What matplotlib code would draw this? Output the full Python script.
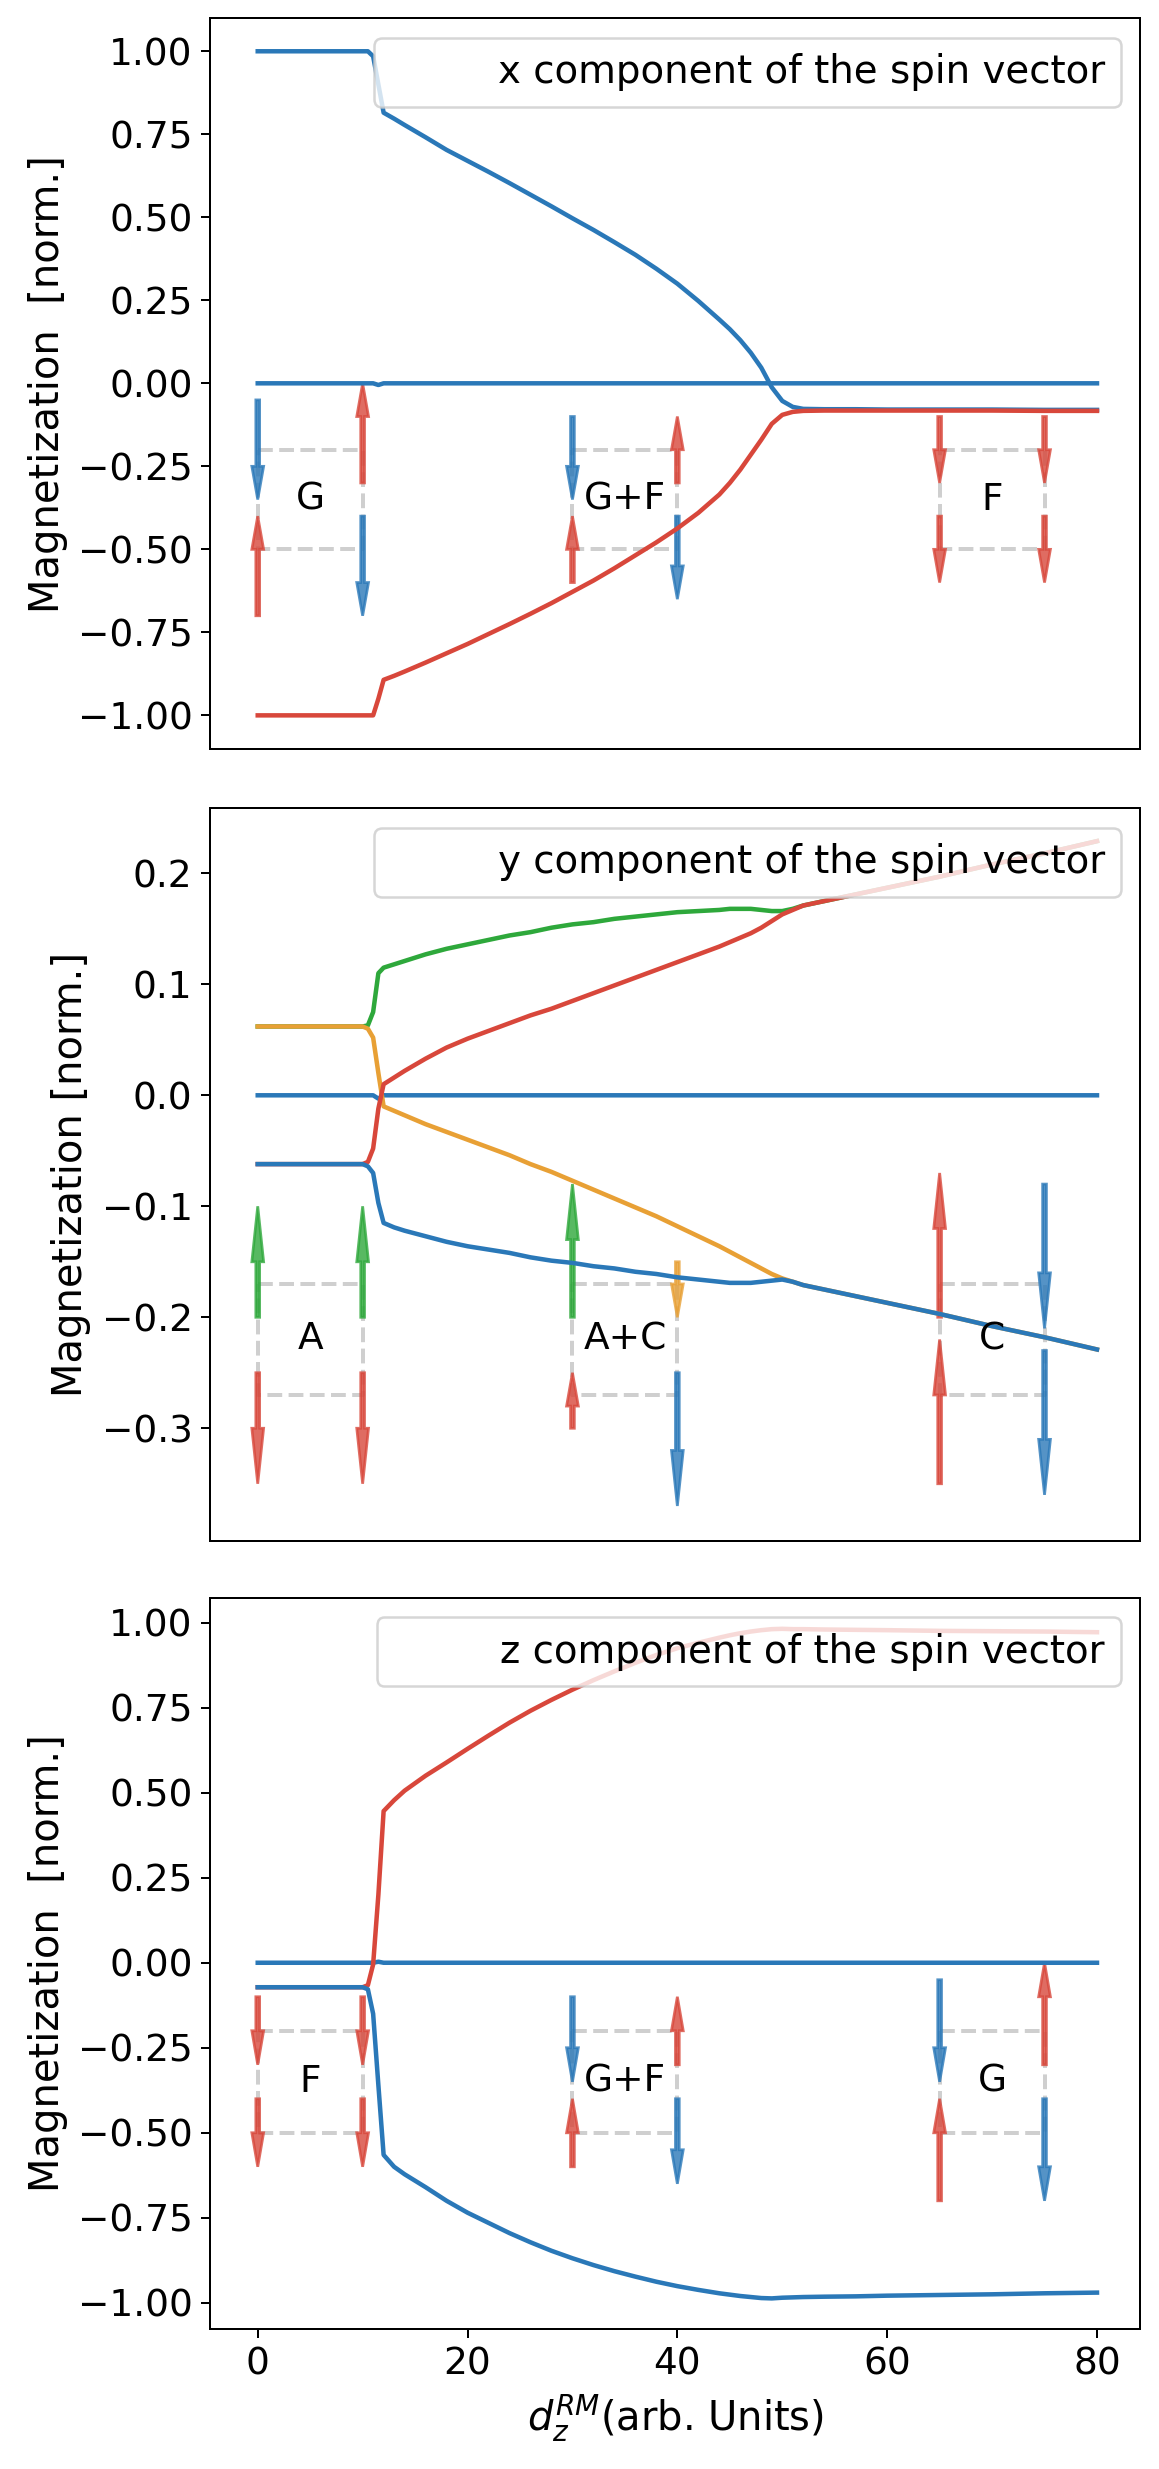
import matplotlib
matplotlib.use("Agg")
import matplotlib.pyplot as plt

# ---------------- data ----------------
X = [0, 10, 10.5, 11, 11.5, 12, 13, 14, 16, 18, 20, 22, 24, 26, 28, 30, 32, 34, 36, 38,
     40, 42, 44, 45, 46, 47, 48, 49, 50, 51, 52, 54, 57, 60, 65, 70, 75, 80]

# x component
sx_blue = [1.0, 1.0, 1.0, 0.985, 0.90, 0.815, 0.797, 0.778, 0.741, 0.703, 0.670, 0.637, 0.603,
           0.568, 0.533, 0.497, 0.462, 0.425, 0.387, 0.345, 0.300, 0.248, 0.192, 0.163, 0.130,
           0.092, 0.047, -0.012, -0.053, -0.071, -0.077, -0.078, -0.078, -0.079, -0.079,
           -0.079, -0.080, -0.080]
sx_red = [-1.0, -1.0, -1.0, -1.0, -0.95, -0.893, -0.881, -0.868, -0.841, -0.813, -0.785,
          -0.755, -0.725, -0.694, -0.662, -0.628, -0.594, -0.557, -0.518, -0.479, -0.437,
          -0.390, -0.335, -0.300, -0.260, -0.215, -0.170, -0.122, -0.095, -0.086, -0.083,
          -0.082, -0.082, -0.082, -0.082, -0.082, -0.083, -0.083]
sx_zero = [0, 0, 0, 0, -0.005, 0, 0, 0, 0, 0, 0, 0, 0, 0, 0, 0, 0, 0, 0, 0,
           0, 0, 0, 0, 0, 0, 0, 0, 0, 0, 0, 0, 0, 0, 0, 0, 0, 0]

# y component
sy_green = [0.062, 0.062, 0.063, 0.075, 0.110, 0.115, 0.118, 0.121, 0.127, 0.132, 0.136,
            0.140, 0.144, 0.147, 0.151, 0.154, 0.156, 0.159, 0.161, 0.163, 0.165, 0.166,
            0.167, 0.168, 0.168, 0.168, 0.167, 0.166, 0.166, 0.168, 0.171, 0.175, 0.181,
            0.187, 0.197, 0.208, 0.218, 0.229]
sy_red = [-0.062, -0.062, -0.060, -0.048, -0.012, 0.010, 0.016, 0.022, 0.033, 0.043, 0.051,
          0.058, 0.065, 0.072, 0.078, 0.085, 0.092, 0.099, 0.106, 0.113, 0.120, 0.127, 0.134,
          0.138, 0.142, 0.146, 0.151, 0.157, 0.163, 0.167, 0.171, 0.175, 0.181, 0.187, 0.197,
          0.208, 0.218, 0.229]
sy_orange = [0.062, 0.062, 0.060, 0.052, 0.020, -0.010, -0.014, -0.018, -0.026, -0.033,
             -0.040, -0.047, -0.054, -0.062, -0.069, -0.077, -0.085, -0.093, -0.101, -0.109,
             -0.118, -0.127, -0.136, -0.141, -0.146, -0.151, -0.156, -0.161, -0.165, -0.168,
             -0.171, -0.175, -0.181, -0.187, -0.197, -0.208, -0.218, -0.229]
sy_blue = [-0.062, -0.062, -0.064, -0.070, -0.097, -0.115, -0.119, -0.122, -0.127, -0.132,
           -0.136, -0.139, -0.142, -0.146, -0.149, -0.151, -0.154, -0.156, -0.159, -0.161,
           -0.164, -0.166, -0.168, -0.169, -0.169, -0.169, -0.168, -0.167, -0.166, -0.168,
           -0.171, -0.175, -0.181, -0.187, -0.197, -0.208, -0.218, -0.229]
sy_zero = [0, 0, 0, 0, -0.003, 0, 0, 0, 0, 0, 0, 0, 0, 0, 0, 0, 0, 0, 0, 0,
           0, 0, 0, 0, 0, 0, 0, 0, 0, 0, 0, 0, 0, 0, 0, 0, 0, 0]

# z component
sz_red = [-0.072, -0.072, -0.066, -0.005, 0.20, 0.446, 0.478, 0.506, 0.550, 0.589, 0.629,
          0.668, 0.706, 0.741, 0.773, 0.803, 0.831, 0.857, 0.882, 0.905, 0.925, 0.941, 0.956,
          0.963, 0.969, 0.974, 0.978, 0.981, 0.982, 0.981, 0.981, 0.980, 0.979, 0.978, 0.976,
          0.975, 0.974, 0.972]
sz_blue = [-0.072, -0.072, -0.078, -0.150, -0.360, -0.565, -0.600, -0.622, -0.660, -0.700,
           -0.735, -0.765, -0.795, -0.822, -0.847, -0.869, -0.889, -0.907, -0.923, -0.938,
           -0.951, -0.962, -0.972, -0.976, -0.980, -0.983, -0.986, -0.987, -0.985, -0.984,
           -0.983, -0.982, -0.981, -0.979, -0.977, -0.975, -0.972, -0.970]
sz_zero = [0, 0, 0, 0, 0.003, 0, 0, 0, 0, 0, 0, 0, 0, 0, 0, 0, 0, 0, 0, 0,
           0, 0, 0, 0, 0, 0, 0, 0, 0, 0, 0, 0, 0, 0, 0, 0, 0, 0]

# spin-configuration sketches (arrows): x position, start, vector length, colour key
ax_x = [0, 0, 10, 10, 30, 30, 40, 40, 65, 65, 75, 75]
ax_y0 = [-0.05, -0.70, -0.30, -0.40, -0.10, -0.60, -0.30, -0.40, -0.10, -0.40, -0.10, -0.40]
ax_dy = [-0.30, 0.30, 0.30, -0.30, -0.25, 0.20, 0.20, -0.25, -0.20, -0.20, -0.20, -0.20]
ax_c = ["b", "r", "r", "b", "b", "r", "r", "b", "r", "r", "r", "r"]

ay_x = [0, 0, 10, 10, 30, 30, 40, 40, 65, 65, 75, 75]
ay_y0 = [-0.20, -0.25, -0.20, -0.25, -0.20, -0.30, -0.15, -0.25, -0.20, -0.35, -0.08, -0.23]
ay_dy = [0.10, -0.10, 0.10, -0.10, 0.12, 0.05, -0.05, -0.12, 0.13, 0.13, -0.13, -0.13]
ay_c = ["g", "r", "g", "r", "g", "r", "o", "b", "r", "r", "b", "b"]

az_x = [0, 0, 10, 10, 30, 30, 40, 40, 65, 65, 75, 75]
az_y0 = [-0.10, -0.40, -0.10, -0.40, -0.10, -0.60, -0.30, -0.40, -0.05, -0.70, -0.30, -0.40]
az_dy = [-0.20, -0.20, -0.20, -0.20, -0.25, 0.20, 0.20, -0.25, -0.30, 0.30, 0.30, -0.30]
az_c = ["r", "r", "r", "r", "b", "r", "r", "b", "b", "r", "r", "b"]

box_x0 = [0, 30, 65]
box_x1 = [10, 40, 75]
labels_x = ["G", "G+F", "F"]
labels_y = ["A", "A+C", "C"]
labels_z = ["F", "G+F", "G"]
box_yx = (-0.2, -0.5)
box_yy = (-0.17, -0.27)
box_yz = (-0.2, -0.5)

legend_texts = ["x component of the spin vector",
                "y component of the spin vector",
                "z component of the spin vector"]
ylabels = ["Magnetization  [norm.]", "Magnetization [norm.]", "Magnetization  [norm.]"]
xticks = [0, 20, 40, 60, 80]

# ---------------- style ----------------
COL = {"b": "#2a78b8", "r": "#d8473b", "g": "#2ea83b", "o": "#e8a035"}
LW = 1.8
W, H, DPI = 1159, 2469, 180

fig = plt.figure(figsize=(W / DPI, H / DPI), dpi=DPI)
axes = [fig.add_axes([210 / W, 1 - 748.9 / H, 930 / W, 730.5 / H]),
        fig.add_axes([210 / W, 1 - 1540.8 / H, 930 / W, 732.4 / H]),
        fig.add_axes([210 / W, 1 - 2329.0 / H, 930 / W, 731.3 / H])]


def draw_sketch(ax, xs, y0s, dys, cs, hl, labels, yb):
    ytop, ybot = yb
    for a, b in zip(box_x0, box_x1):
        ax.plot([a, b, b, a, a], [ytop, ytop, ybot, ybot, ytop], ls="--",
                color="#cfcfcf", lw=1.6, zorder=0.8)
    for a, b, t in zip(box_x0, box_x1, labels):
        ax.text((a + b) / 2, (ytop + ybot) / 2, t, ha="center", va="center",
                fontsize=15, zorder=3)
    for x, y, dy, c in zip(xs, y0s, dys, cs):
        h = min(hl, 0.6 * abs(dy))
        ax.arrow(x, y, 0, dy, width=0.36, head_width=1.12, head_length=h,
                 length_includes_head=True, color=COL[c], alpha=0.8, lw=1.1, zorder=1)


# x panel
ax = axes[0]
draw_sketch(ax, ax_x, ax_y0, ax_dy, ax_c, 0.1, labels_x, box_yx)
ax.plot(X, sx_zero, color=COL["b"], lw=LW)
ax.plot(X, sx_blue, color=COL["b"], lw=LW)
ax.plot(X, sx_red, color=COL["r"], lw=LW)
ax.set_ylim(-1.101, 1.099)
ax.set_yticks([-1.0, -0.75, -0.5, -0.25, 0.0, 0.25, 0.5, 0.75, 1.0])

# y panel
ax = axes[1]
draw_sketch(ax, ay_x, ay_y0, ay_dy, ay_c, 0.05, labels_y, box_yy)
ax.plot(X, sy_zero, color=COL["b"], lw=LW)
ax.plot(X, sy_green, color=COL["g"], lw=LW)
ax.plot(X, sy_orange, color=COL["o"], lw=LW)
ax.plot(X, sy_red, color=COL["r"], lw=LW)
ax.plot(X, sy_blue, color=COL["b"], lw=LW)
ax.set_ylim(-0.4014, 0.2585)
ax.set_yticks([-0.3, -0.2, -0.1, 0.0, 0.1, 0.2])

# z panel
ax = axes[2]
draw_sketch(ax, az_x, az_y0, az_dy, az_c, 0.1, labels_z, box_yz)
ax.plot(X, sz_zero, color=COL["b"], lw=LW)
ax.plot(X, sz_red, color=COL["r"], lw=LW)
ax.plot(X, sz_blue, color=COL["b"], lw=LW)
ax.set_ylim(-1.077, 1.0735)
ax.set_yticks([-1.0, -0.75, -0.5, -0.25, 0.0, 0.25, 0.5, 0.75, 1.0])
ax.set_xticks(xticks)
ax.set_xlabel(r"$d_z^{RM}$(arb. Units)", fontsize=16)

for i, ax in enumerate(axes):
    ax.set_xlim(-4.55, 84.1)
    if i < 2:
        ax.set_xticks([])
    ax.tick_params(labelsize=15)
    ax.set_ylabel(ylabels[i], fontsize=16)
    h, = ax.plot([], [], " ", label=legend_texts[i])
    ax.legend(handles=[h], loc="upper right", fontsize=15.5)

fig.savefig("out.png", dpi=DPI)
